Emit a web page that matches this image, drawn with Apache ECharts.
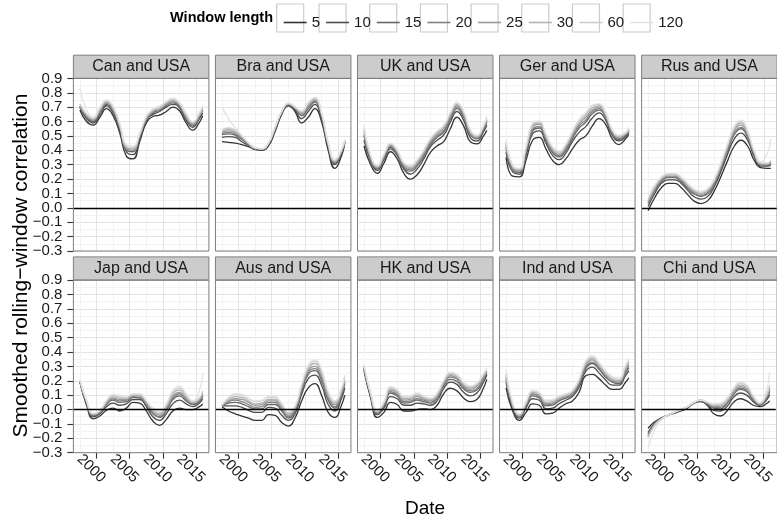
<!DOCTYPE html>
<html>
<head>
<meta charset="utf-8">
<script src="https://cdn.jsdelivr.net/npm/echarts@6/dist/echarts.min.js"></script>
<style>html,body{margin:0;padding:0;background:#fff}#c{width:777px;height:524px}</style>
</head>
<body>
<div id="c"></div>
<script>
// ---------- data ----------
const years = [1997.5,1998.5,1999.5,2000.5,2001.5,2002.5,2003.5,2004.5,2005.5,2006.5,2007.5,2008.5,2009.5,2010.5,2011.5,2012.5,2013.5,2014.5,2015.5,2016.0];
const windowLengths = ['5','10','15','20','25','30','60','120'];
const pairNames = ['Can and USA','Bra and USA','UK and USA','Ger and USA','Rus and USA','Jap and USA','Aus and USA','HK and USA','Ind and USA','Chi and USA'];
const xTickValues = [2000,2005,2010,2015];
const xMinorValues = [1997.5,2002.5,2007.5,2012.5];
const yTickValues = [-0.3,-0.2,-0.1,0.0,0.1,0.2,0.3,0.4,0.5,0.6,0.7,0.8,0.9];

const canUSA = [
 [0.68,0.60,0.575,0.63,0.69,0.64,0.52,0.36,0.34,0.46,0.59,0.635,0.645,0.67,0.70,0.675,0.59,0.54,0.595,0.64],
 [0.70,0.62,0.59,0.65,0.71,0.66,0.54,0.39,0.37,0.48,0.61,0.65,0.67,0.70,0.72,0.695,0.61,0.56,0.62,0.66],
 [0.70,0.63,0.60,0.67,0.72,0.68,0.56,0.40,0.39,0.49,0.61,0.66,0.68,0.71,0.73,0.705,0.63,0.57,0.63,0.68],
 [0.71,0.64,0.61,0.67,0.73,0.68,0.56,0.41,0.40,0.50,0.62,0.67,0.68,0.72,0.74,0.71,0.63,0.58,0.64,0.68],
 [0.71,0.64,0.61,0.68,0.73,0.69,0.57,0.42,0.40,0.50,0.62,0.67,0.69,0.72,0.74,0.72,0.64,0.58,0.64,0.69],
 [0.72,0.65,0.62,0.68,0.74,0.69,0.57,0.42,0.41,0.51,0.63,0.68,0.69,0.73,0.75,0.72,0.64,0.59,0.65,0.69],
 [0.72,0.65,0.62,0.69,0.745,0.70,0.58,0.43,0.42,0.51,0.63,0.68,0.70,0.735,0.755,0.725,0.65,0.595,0.655,0.70],
 [0.83,0.68,0.63,0.70,0.75,0.71,0.59,0.44,0.43,0.52,0.64,0.69,0.71,0.74,0.765,0.735,0.66,0.60,0.665,0.71]
];
const braUSA = [
 [0.46,0.455,0.45,0.44,0.425,0.405,0.40,0.43,0.53,0.65,0.71,0.67,0.59,0.63,0.69,0.60,0.40,0.275,0.36,0.45],
 [0.49,0.495,0.49,0.46,0.435,0.41,0.40,0.44,0.54,0.66,0.715,0.68,0.62,0.67,0.72,0.62,0.42,0.30,0.38,0.46],
 [0.51,0.515,0.505,0.475,0.44,0.41,0.405,0.44,0.55,0.66,0.72,0.69,0.64,0.69,0.735,0.635,0.43,0.31,0.385,0.46],
 [0.515,0.525,0.515,0.48,0.44,0.41,0.41,0.445,0.55,0.665,0.72,0.69,0.645,0.70,0.74,0.64,0.435,0.315,0.39,0.465],
 [0.525,0.535,0.52,0.49,0.445,0.415,0.41,0.445,0.555,0.665,0.72,0.695,0.655,0.71,0.75,0.65,0.44,0.32,0.39,0.465],
 [0.53,0.545,0.53,0.495,0.45,0.415,0.41,0.45,0.555,0.67,0.725,0.70,0.66,0.72,0.76,0.655,0.445,0.325,0.395,0.47],
 [0.54,0.555,0.54,0.50,0.45,0.415,0.41,0.45,0.56,0.67,0.725,0.70,0.67,0.73,0.765,0.66,0.45,0.33,0.40,0.47],
 [0.70,0.62,0.555,0.505,0.455,0.42,0.41,0.45,0.56,0.67,0.73,0.705,0.675,0.735,0.77,0.665,0.455,0.335,0.405,0.475]
];
const ukUSA = [
 [0.43,0.30,0.24,0.31,0.39,0.34,0.24,0.20,0.23,0.30,0.385,0.43,0.46,0.55,0.63,0.57,0.46,0.445,0.50,0.54],
 [0.47,0.325,0.26,0.335,0.41,0.365,0.27,0.235,0.27,0.34,0.425,0.47,0.505,0.595,0.67,0.61,0.49,0.465,0.53,0.575],
 [0.50,0.335,0.27,0.345,0.42,0.375,0.28,0.255,0.29,0.36,0.44,0.49,0.525,0.615,0.69,0.63,0.51,0.48,0.54,0.595],
 [0.51,0.34,0.275,0.35,0.43,0.38,0.29,0.265,0.30,0.37,0.45,0.50,0.535,0.625,0.70,0.64,0.515,0.485,0.55,0.605],
 [0.525,0.35,0.28,0.36,0.435,0.39,0.295,0.27,0.31,0.38,0.46,0.51,0.55,0.64,0.71,0.65,0.525,0.49,0.555,0.61],
 [0.54,0.355,0.285,0.365,0.44,0.395,0.305,0.28,0.32,0.39,0.47,0.52,0.56,0.65,0.72,0.66,0.53,0.495,0.565,0.62],
 [0.55,0.36,0.29,0.37,0.445,0.40,0.31,0.29,0.33,0.40,0.48,0.53,0.57,0.66,0.73,0.67,0.54,0.50,0.57,0.63],
 [0.58,0.37,0.295,0.375,0.45,0.405,0.315,0.295,0.335,0.405,0.485,0.535,0.575,0.665,0.735,0.675,0.545,0.505,0.575,0.635]
];
const gerUSA = [
 [0.35,0.22,0.215,0.33,0.47,0.49,0.41,0.33,0.30,0.34,0.41,0.47,0.50,0.57,0.62,0.58,0.48,0.44,0.48,0.51],
 [0.39,0.25,0.235,0.365,0.515,0.535,0.45,0.365,0.335,0.38,0.46,0.525,0.565,0.625,0.66,0.61,0.505,0.465,0.495,0.525],
 [0.415,0.265,0.245,0.385,0.535,0.555,0.47,0.385,0.355,0.40,0.48,0.555,0.595,0.655,0.68,0.63,0.515,0.475,0.505,0.535],
 [0.425,0.27,0.25,0.395,0.545,0.565,0.48,0.395,0.365,0.41,0.495,0.57,0.61,0.67,0.69,0.635,0.52,0.48,0.51,0.54],
 [0.44,0.28,0.26,0.40,0.56,0.58,0.49,0.40,0.37,0.42,0.51,0.58,0.63,0.68,0.70,0.645,0.53,0.49,0.51,0.54],
 [0.45,0.285,0.265,0.41,0.57,0.59,0.50,0.41,0.38,0.43,0.52,0.595,0.645,0.695,0.71,0.65,0.535,0.495,0.515,0.545],
 [0.46,0.29,0.27,0.42,0.58,0.60,0.51,0.42,0.39,0.44,0.53,0.61,0.66,0.71,0.72,0.66,0.54,0.50,0.52,0.55],
 [0.48,0.30,0.275,0.43,0.59,0.605,0.515,0.425,0.395,0.445,0.535,0.615,0.665,0.715,0.725,0.665,0.545,0.505,0.525,0.56]
];
const rusUSA = [
 [-0.02,0.07,0.14,0.17,0.17,0.14,0.09,0.045,0.03,0.05,0.12,0.22,0.33,0.43,0.47,0.43,0.33,0.28,0.275,0.275],
 [0.01,0.10,0.17,0.195,0.195,0.17,0.12,0.075,0.06,0.08,0.15,0.255,0.375,0.48,0.52,0.47,0.355,0.29,0.29,0.30],
 [0.03,0.12,0.18,0.21,0.21,0.18,0.135,0.095,0.08,0.10,0.17,0.275,0.395,0.51,0.55,0.49,0.37,0.30,0.295,0.31],
 [0.035,0.125,0.19,0.215,0.215,0.19,0.14,0.10,0.085,0.105,0.175,0.285,0.41,0.52,0.56,0.50,0.375,0.30,0.30,0.315],
 [0.045,0.135,0.195,0.22,0.22,0.195,0.15,0.11,0.095,0.115,0.185,0.29,0.42,0.535,0.575,0.51,0.38,0.305,0.30,0.32],
 [0.05,0.14,0.205,0.23,0.23,0.205,0.155,0.115,0.10,0.12,0.19,0.30,0.43,0.545,0.59,0.52,0.385,0.31,0.305,0.325],
 [0.06,0.15,0.21,0.235,0.235,0.21,0.165,0.125,0.11,0.13,0.20,0.31,0.44,0.56,0.60,0.53,0.39,0.31,0.31,0.33],
 [0.08,0.16,0.215,0.24,0.24,0.215,0.17,0.13,0.115,0.135,0.205,0.32,0.45,0.57,0.61,0.54,0.40,0.32,0.38,0.48]
];
const japUSA = [
 [0.19,0.03,-0.065,-0.045,-0.005,0.01,-0.01,0.01,0.05,0.045,-0.01,-0.08,-0.11,-0.07,-0.01,0.01,0.0,0.0,0.02,0.04],
 [0.195,0.04,-0.05,-0.03,0.02,0.045,0.03,0.04,0.07,0.07,0.02,-0.05,-0.075,-0.03,0.04,0.065,0.04,0.02,0.045,0.075],
 [0.195,0.05,-0.045,-0.025,0.035,0.065,0.05,0.055,0.085,0.08,0.03,-0.03,-0.055,-0.01,0.07,0.095,0.06,0.035,0.055,0.095],
 [0.195,0.05,-0.04,-0.02,0.04,0.075,0.06,0.065,0.09,0.085,0.04,-0.025,-0.05,0.0,0.08,0.11,0.07,0.04,0.06,0.10],
 [0.20,0.055,-0.035,-0.015,0.045,0.08,0.07,0.07,0.095,0.095,0.045,-0.015,-0.04,0.01,0.095,0.12,0.08,0.045,0.07,0.11],
 [0.20,0.06,-0.03,-0.01,0.055,0.09,0.08,0.08,0.10,0.10,0.055,-0.01,-0.03,0.02,0.11,0.135,0.09,0.05,0.075,0.12],
 [0.20,0.06,-0.03,-0.01,0.06,0.10,0.09,0.085,0.105,0.105,0.06,0.0,-0.02,0.03,0.12,0.15,0.10,0.055,0.08,0.13],
 [0.21,0.065,-0.025,-0.005,0.065,0.105,0.10,0.095,0.11,0.11,0.065,0.01,-0.01,0.04,0.135,0.165,0.11,0.06,0.13,0.25]
];
const ausUSA = [
 [0.02,-0.01,-0.03,-0.045,-0.06,-0.075,-0.075,-0.035,-0.04,-0.09,-0.115,-0.06,0.06,0.15,0.18,0.10,-0.02,-0.055,0.03,0.10],
 [0.025,0.025,0.025,0.015,-0.005,-0.02,-0.02,0.015,0.01,-0.04,-0.075,-0.03,0.105,0.215,0.24,0.17,0.035,-0.01,0.075,0.15],
 [0.025,0.045,0.05,0.04,0.02,0.005,0.005,0.035,0.035,-0.01,-0.06,-0.01,0.125,0.245,0.27,0.20,0.065,0.01,0.095,0.18],
 [0.025,0.055,0.065,0.055,0.035,0.015,0.02,0.05,0.05,0.0,-0.05,-0.005,0.14,0.26,0.285,0.22,0.08,0.02,0.105,0.19],
 [0.03,0.06,0.075,0.07,0.05,0.03,0.035,0.06,0.06,0.015,-0.04,0.005,0.15,0.27,0.30,0.235,0.09,0.035,0.12,0.205],
 [0.03,0.07,0.09,0.085,0.06,0.04,0.045,0.07,0.07,0.025,-0.03,0.01,0.16,0.285,0.32,0.25,0.105,0.045,0.13,0.215],
 [0.03,0.08,0.105,0.10,0.075,0.055,0.06,0.085,0.085,0.04,-0.02,0.02,0.17,0.30,0.335,0.27,0.12,0.055,0.14,0.23],
 [0.035,0.085,0.11,0.105,0.08,0.06,0.065,0.09,0.09,0.045,-0.015,0.025,0.18,0.31,0.345,0.28,0.13,0.06,0.15,0.24]
];
const hkUSA = [
 [0.27,0.08,-0.055,-0.02,0.05,0.035,-0.01,-0.01,0.0,0.005,0.0,0.03,0.11,0.148,0.13,0.08,0.055,0.07,0.15,0.21],
 [0.28,0.09,-0.035,0.01,0.09,0.075,0.03,0.03,0.045,0.04,0.03,0.06,0.145,0.19,0.175,0.12,0.095,0.115,0.19,0.24],
 [0.29,0.10,-0.03,0.02,0.115,0.095,0.045,0.05,0.065,0.055,0.045,0.08,0.165,0.21,0.195,0.145,0.12,0.135,0.21,0.25],
 [0.29,0.10,-0.025,0.03,0.125,0.105,0.055,0.06,0.075,0.065,0.05,0.085,0.175,0.225,0.21,0.155,0.13,0.145,0.215,0.26],
 [0.295,0.105,-0.02,0.035,0.135,0.115,0.065,0.07,0.09,0.075,0.06,0.095,0.18,0.235,0.22,0.165,0.14,0.16,0.225,0.265],
 [0.30,0.11,-0.015,0.045,0.145,0.125,0.075,0.08,0.10,0.08,0.07,0.10,0.19,0.245,0.23,0.175,0.15,0.17,0.235,0.27],
 [0.30,0.11,-0.01,0.05,0.155,0.135,0.085,0.09,0.11,0.09,0.075,0.11,0.20,0.255,0.24,0.185,0.16,0.18,0.245,0.28],
 [0.32,0.12,-0.005,0.055,0.16,0.14,0.09,0.095,0.115,0.095,0.08,0.115,0.205,0.26,0.245,0.19,0.165,0.185,0.25,0.29]
];
const indUSA = [
 [0.15,-0.01,-0.075,-0.02,0.04,0.03,-0.03,-0.025,0.01,0.04,0.06,0.12,0.235,0.245,0.215,0.17,0.14,0.14,0.19,0.22],
 [0.19,0.005,-0.06,0.01,0.075,0.065,0.005,0.01,0.04,0.065,0.09,0.155,0.265,0.295,0.255,0.205,0.17,0.17,0.235,0.27],
 [0.21,0.015,-0.05,0.02,0.095,0.08,0.025,0.03,0.06,0.08,0.10,0.175,0.285,0.32,0.28,0.225,0.19,0.18,0.255,0.29],
 [0.22,0.02,-0.045,0.03,0.105,0.09,0.035,0.04,0.065,0.085,0.11,0.185,0.30,0.33,0.29,0.235,0.195,0.19,0.265,0.30],
 [0.23,0.03,-0.045,0.035,0.11,0.10,0.04,0.045,0.075,0.09,0.115,0.19,0.31,0.345,0.30,0.24,0.205,0.195,0.28,0.315],
 [0.24,0.035,-0.04,0.045,0.12,0.105,0.05,0.055,0.08,0.10,0.125,0.20,0.32,0.355,0.31,0.25,0.21,0.20,0.29,0.33],
 [0.25,0.04,-0.035,0.05,0.13,0.115,0.06,0.065,0.09,0.105,0.13,0.21,0.33,0.365,0.32,0.26,0.22,0.21,0.30,0.34],
 [0.28,0.05,-0.03,0.055,0.135,0.12,0.065,0.07,0.095,0.11,0.135,0.215,0.34,0.375,0.33,0.27,0.23,0.22,0.31,0.355]
];
const chiUSA = [
 [-0.13,-0.085,-0.06,-0.04,-0.025,-0.01,0.01,0.045,0.055,0.03,-0.03,-0.045,-0.01,0.05,0.075,0.06,0.03,0.02,0.04,0.06],
 [-0.16,-0.095,-0.06,-0.04,-0.025,-0.005,0.015,0.045,0.06,0.04,-0.005,-0.01,0.02,0.085,0.115,0.10,0.055,0.03,0.065,0.105],
 [-0.17,-0.10,-0.065,-0.04,-0.02,-0.005,0.015,0.05,0.06,0.04,0.01,0.005,0.04,0.105,0.14,0.125,0.065,0.035,0.075,0.125],
 [-0.18,-0.10,-0.065,-0.04,-0.02,0.0,0.015,0.05,0.06,0.045,0.015,0.015,0.045,0.11,0.15,0.135,0.07,0.035,0.08,0.135],
 [-0.185,-0.105,-0.065,-0.04,-0.02,0.0,0.02,0.05,0.065,0.045,0.02,0.025,0.055,0.12,0.16,0.145,0.08,0.04,0.09,0.145],
 [-0.19,-0.11,-0.065,-0.04,-0.02,0.0,0.02,0.05,0.065,0.05,0.03,0.03,0.06,0.13,0.17,0.155,0.085,0.04,0.095,0.16],
 [-0.20,-0.11,-0.065,-0.04,-0.02,0.0,0.02,0.05,0.065,0.05,0.035,0.04,0.07,0.14,0.18,0.165,0.09,0.045,0.10,0.17],
 [-0.27,-0.14,-0.075,-0.04,-0.02,0.0,0.02,0.05,0.065,0.055,0.04,0.045,0.08,0.15,0.19,0.175,0.10,0.05,0.13,0.26]
];
const panelData = [canUSA, braUSA, ukUSA, gerUSA, rusUSA, japUSA, ausUSA, hkUSA, indUSA, chiUSA];

// ---------- style / layout ----------
const FONT = '"Liberation Sans", Arial, Helvetica, sans-serif';
const lineColors = ['#333333','#4D4D4D','#666666','#808080','#999999','#B3B3B3','#CCCCCC','#E3E3E3'];
const X_MIN = 1996.52, X_MAX = 2016.93;
const L0 = 73.4, PITCH = 142.05, PW = 135.5, TOPS = [78.4, 280.1], PH = 172.6, SH = 23.2;
const TICK_FS = 15;

const grid = [], xAxis = [], yAxis = [], series = [], elements = [];

function fmtY(v) {
  const s = Math.abs(v).toFixed(1);
  return (v < -1e-9 ? '\u2212' : '') + s;
}
// labels split over two axes so that the library never drops one for overlap
const yLabelsA = yTickValues.filter((v, j) => j % 2 === 1);
const yLabelsB = yTickValues.filter((v, j) => j % 2 === 0);

panelData.forEach((rows, i) => {
  const r = Math.floor(i / 5), c = i % 5;
  const left = L0 + c * PITCH, top = TOPS[r];
  grid.push({left: left, top: top, width: PW, height: PH, containLabel: false});
  xAxis.push({
    type: 'value', gridIndex: i, min: X_MIN, max: X_MAX, position: 'bottom',
    axisLine: {show: false, onZero: false},
    axisTick: {show: r === 1, customValues: xTickValues, length: 6, lineStyle: {color: '#333', width: 1.1}},
    axisLabel: {show: r === 1, customValues: xTickValues, rotate: -45, align: 'center', verticalAlign: 'top',
      margin: 10.5, fontSize: TICK_FS, fontFamily: FONT, color: '#1a1a1a', hideOverlap: false,
      formatter: v => String(Math.round(v))},
    splitLine: {show: true, lineStyle: {color: '#E4E4E4', width: 1}}
  });
  xAxis.push({
    type: 'value', gridIndex: i, min: X_MIN, max: X_MAX, position: 'top',
    axisLine: {show: false, onZero: false},
    axisTick: {show: false, customValues: xMinorValues},
    axisLabel: {show: false, customValues: xMinorValues},
    splitLine: {show: true, lineStyle: {color: '#F3F3F3', width: 1}}
  });
  const yIdx = yAxis.length;
  yAxis.push({
    type: 'value', gridIndex: i, min: -0.3, max: 0.9, interval: 0.1, position: 'left',
    axisLine: {show: false, onZero: false},
    axisTick: {show: c === 0, customValues: yTickValues, length: 6, lineStyle: {color: '#333', width: 1.1}},
    axisLabel: {show: c === 0, customValues: yLabelsA, hideOverlap: false,
      margin: 11, fontSize: TICK_FS, fontFamily: FONT, color: '#1a1a1a', formatter: fmtY},
    splitLine: {show: true, lineStyle: {color: '#E4E4E4', width: 1}},
    minorTick: {show: false, splitNumber: 2},
    minorSplitLine: {show: true, lineStyle: {color: '#F3F3F3', width: 1}}
  });
  if (c === 0) {
    yAxis.push({
      type: 'value', gridIndex: i, min: -0.3, max: 0.9, interval: 0.1, position: 'left', offset: 0,
      axisLine: {show: false, onZero: false},
      axisTick: {show: false, customValues: yLabelsB},
      axisLabel: {show: true, customValues: yLabelsB, hideOverlap: false,
        margin: 11, fontSize: TICK_FS, fontFamily: FONT, color: '#1a1a1a', formatter: fmtY},
      splitLine: {show: false}, minorSplitLine: {show: false}
    });
  }
  rows.forEach((vals, k) => {
    const s = {
      type: 'line', name: windowLengths[k], xAxisIndex: 2 * i, yAxisIndex: yIdx,
      data: years.map((x, j) => [x, vals[j]]),
      smooth: 0.5, symbol: 'none', showSymbol: false,
      lineStyle: {color: lineColors[k], width: 1.3}, itemStyle: {color: lineColors[k]},
      silent: true, animation: false, z: 2
    };
    if (k === rows.length - 1) {
      s.markLine = {silent: true, symbol: ['none', 'none'], label: {show: false}, animation: false,
        lineStyle: {color: '#000', width: 1.3, type: 'solid'}, data: [{yAxis: 0}]};
    }
    series.push(s);
  });
  // strip
  elements.push({type: 'rect', z: 50, silent: true,
    shape: {x: left, y: top - SH, width: PW, height: SH},
    style: {fill: '#CCCCCC', stroke: '#7F7F7F', lineWidth: 1}});
  elements.push({type: 'text', z: 51, silent: true, x: left + PW / 2, y: top - SH / 2,
    style: {text: pairNames[i], fontSize: 16, fontFamily: FONT, fill: '#1a1a1a', align: 'center', verticalAlign: 'middle'}});
  // panel border
  elements.push({type: 'rect', z: 60, silent: true,
    shape: {x: left, y: top, width: PW, height: PH},
    style: {fill: 'none', stroke: '#7F7F7F', lineWidth: 1}});
});

// legend boxes
const LEG_FS = 15, LEG_IW = 23, LEG_GAP = 6, LEG_LEFT = 278.7;
const mctx = document.createElement('canvas').getContext('2d');
mctx.font = LEG_FS + 'px ' + FONT;
let lx = LEG_LEFT;
windowLengths.forEach(w => {
  elements.push({type: 'rect', z: 0, silent: true,
    shape: {x: lx - 2, y: 4, width: 27, height: 28},
    style: {fill: '#fff', stroke: '#CCCCCC', lineWidth: 1.2}});
  lx += LEG_IW + 5 + mctx.measureText(w).width + LEG_GAP;
});
elements.push({type: 'text', z: 5, silent: true, x: 273, y: 18,
  style: {text: 'Window length', fontSize: 14.5, fontWeight: 'bold', fontFamily: FONT, fill: '#000', align: 'right', verticalAlign: 'middle'}});
elements.push({type: 'text', z: 5, silent: true, x: 21, y: 265.5, rotation: Math.PI / 2,
  style: {text: 'Smoothed rolling\u2212window correlation', fontSize: 21, fontFamily: FONT, fill: '#000', align: 'center', verticalAlign: 'middle'}});
elements.push({type: 'text', z: 5, silent: true, x: 425, y: 509,
  style: {text: 'Date', fontSize: 19, fontFamily: FONT, fill: '#000', align: 'center', verticalAlign: 'middle'}});

const chart = echarts.init(document.getElementById('c'), null, {renderer: 'canvas', width: 777, height: 524});
chart.setOption({
  animation: false,
  backgroundColor: '#fff',
  textStyle: {fontFamily: FONT},
  legend: {
    data: windowLengths, left: LEG_LEFT, top: 10, orient: 'horizontal', icon: 'rect',
    itemWidth: LEG_IW, itemHeight: 1.6, itemGap: LEG_GAP, selectedMode: false,
    textStyle: {fontSize: LEG_FS, fontFamily: FONT, color: '#1a1a1a'}
  },
  grid: grid, xAxis: xAxis, yAxis: yAxis, series: series,
  graphic: {elements: elements}
});
</script>
</body>
</html>
